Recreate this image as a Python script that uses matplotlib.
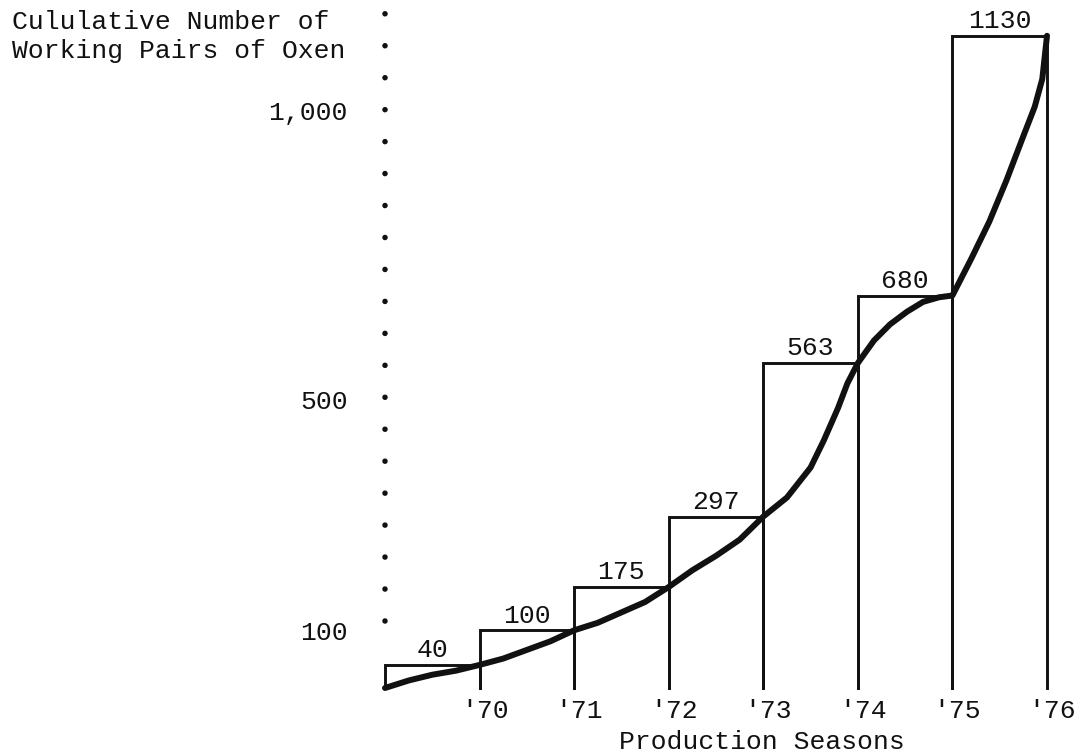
import numpy as np
import matplotlib
matplotlib.use("Agg")
import matplotlib.pyplot as plt
import matplotlib.transforms as mtransforms

# cumulative pairs of oxen at the end of each production season
season_years = [70, 71, 72, 73, 74, 75, 76]
season_labels = ["'70", "'71", "'72", "'73", "'74", "'75", "'76"]
totals = [40, 100, 175, 297, 563, 680, 1130]
total_labels = ["40", "100", "175", "297", "563", "680", "1130"]

# hand drawn trend curve
curve_x = [69, 69.25, 69.5, 69.75, 70,
           70.25, 70.5, 70.75, 71,
           71.25, 71.5, 71.75, 72,
           72.25, 72.5, 72.75, 73,
           73.25, 73.5, 73.64, 73.79, 73.89, 74,
           74.17, 74.34, 74.52, 74.69, 74.86, 75,
           75.2, 75.39, 75.57, 75.74, 75.87, 75.95, 76]
curve_y = [0, 13, 23, 30, 40,
           51, 66, 81, 100,
           113, 131, 149, 175,
           204, 229, 257, 297,
           330, 382, 429, 485, 528, 563,
           602, 630, 652, 669, 677, 680,
           744, 808, 879, 952, 1007, 1055, 1130]

y_ticks = [100, 500, 1000]
y_tick_labels = ["100", "500", "1,000"]

ink = "#111111"
font = ["Liberation Mono", "DejaVu Sans Mono"]
plt.rcParams["font.family"] = font
plt.rcParams["lines.scale_dashes"] = False
fs = 19

fig = plt.figure(figsize=(10.79, 7.54), dpi=100)
ax = fig.add_axes([385 / 1079, 66 / 754, 662 / 1079, 688 / 754])
ax.set_xlim(69, 76)
ax.set_ylim(0, 1192)

# open boxes, no bottom edge
for yr, v, lab in zip(season_years, totals, total_labels):
    ax.plot([yr - 1, yr - 1, yr, yr], [0, v, v, 0], color=ink, lw=2.1,
            solid_joinstyle="miter", clip_on=False)
    ax.annotate(lab, (yr - 0.5, v), xytext=(0, 2), textcoords="offset points",
                ha="center", va="bottom", fontsize=fs, color=ink)

# dotted y axis
ax.plot([69, 69], [116, 1170], color=ink, lw=4.0,
        linestyle=(0, (0.01, 23.0)), dash_capstyle="round", clip_on=False)

ax.plot(curve_x, curve_y, color=ink, lw=4.3, solid_capstyle="round",
        solid_joinstyle="round", clip_on=False)

for s in ax.spines.values():
    s.set_visible(False)

ax.set_xticks(season_years)
ax.set_xticklabels(season_labels)
ax.set_yticks(y_ticks)
ax.set_yticklabels(y_tick_labels)
ax.tick_params(axis="both", length=0, labelsize=fs, labelcolor=ink)
ax.tick_params(axis="x", pad=8)
ax.tick_params(axis="y", pad=27)
shift = mtransforms.ScaledTranslation(5 / 100, 0, fig.dpi_scale_trans)
for t in ax.get_xticklabels():
    t.set_transform(t.get_transform() + shift)

ax.set_xlabel("Production Seasons", fontsize=fs, color=ink)
ax.xaxis.set_label_coords((762 - 385) / 662, -0.061)

ax.set_ylabel("Cululative Number of\nWorking Pairs of Oxen", rotation=0,
              ha="left", va="top", fontsize=fs, color=ink, linespacing=1.25)
ax.yaxis.set_label_coords((12 - 385) / 662, 0.985)

fig.savefig("out.png", dpi=100)
